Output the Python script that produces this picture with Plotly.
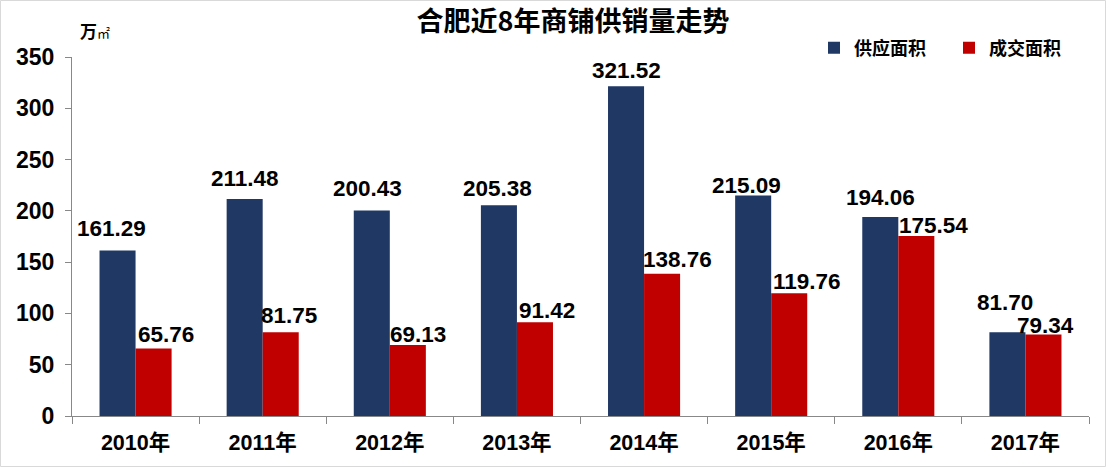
import plotly.graph_objects as go

years = ["2010年", "2011年", "2012年", "2013年", "2014年", "2015年", "2016年", "2017年"]
supply = [161.29, 211.48, 200.43, 205.38, 321.52, 215.09, 194.06, 81.70]
deal = [65.76, 81.75, 69.13, 91.42, 138.76, 119.76, 175.54, 79.34]
series_names = ["供应面积", "成交面积"]
y_ticks = [0, 50, 100, 150, 200, 250, 300, 350]

# label placement tweaks (pixels) to mimic the hand-placed labels of the original
supply_dx = [-6, 0, -4, -1, 0, -7, 0, -2]
supply_dy = [22, 21, 22, 17, 16, 10, 19, 30]
deal_dx = [12, 8, 10, 12, 15, 18, 17, 2]
deal_dy = [14, 17, 11, 12, 14, 12, 10, 9]

BLUE = "#203864"
RED = "#C00000"
FONT = "Liberation Sans, Noto Sans CJK SC, sans-serif"
CJK = "Noto Sans CJK SC, sans-serif"

W, H = 1106, 467
ML, MR, MT, MB = 72, 17, 57, 51
pw = W - ML - MR
ph = H - MT - MB
cat_w = pw / len(years)
bar_frac = 0.2835


def px_x(px):
    return (px - ML) / pw


def px_y(py):
    return (H - MB - py) / ph


fig = go.Figure()
fig.add_trace(go.Bar(x=years, y=supply, name="<b>%s</b>" % series_names[0], marker_color=BLUE,
                     marker_line_width=0))
fig.add_trace(go.Bar(x=years, y=deal, name="<b>%s</b>" % series_names[1], marker_color=RED,
                     marker_line_width=0))

ann = []
for i, y in enumerate(years):
    ann.append(dict(x=y, y=supply[i], xref="x", yref="y", text="<b>%.2f</b>" % supply[i],
                    showarrow=False, xshift=-bar_frac * cat_w / 2 + supply_dx[i],
                    yshift=supply_dy[i], font=dict(family=FONT, size=22.5, color="black")))
    ann.append(dict(x=y, y=deal[i], xref="x", yref="y", text="<b>%.2f</b>" % deal[i],
                    showarrow=False, xshift=bar_frac * cat_w / 2 + deal_dx[i],
                    yshift=deal_dy[i], font=dict(family=FONT, size=22.5, color="black")))

ann.append(dict(x=px_x(78), y=px_y(31), xref="paper", yref="paper",
                text="<b>万</b><span style='font-size:13px'>㎡</span>", showarrow=False,
                xanchor="left", yanchor="middle", font=dict(family=CJK, size=17, color="black")))

shapes = [dict(type="rect", xref="paper", yref="paper",
               x0=px_x(0.5), x1=px_x(W - 0.5),
               y0=px_y(H - 0.5), y1=px_y(0.5),
               line=dict(color="#d9d9d9", width=1), fillcolor="rgba(0,0,0,0)", layer="below")]

fig.update_layout(
    width=W, height=H,
    margin=dict(l=ML, r=MR, t=MT, b=MB, autoexpand=False),
    paper_bgcolor="white", plot_bgcolor="white",
    barmode="group", bargap=0.433, bargroupgap=0,
    title=dict(text="<b>合肥近8年商铺供销量走势</b>", x=573 / W, xanchor="center",
               y=1 - 22 / H, yanchor="middle",
               font=dict(family=CJK, size=27, color="black")),
    legend=dict(orientation="h", xref="container", yref="container",
                x=814 / W, xanchor="left", y=1 - 48 / H, entrywidth=90, entrywidthmode="pixels",
                yanchor="middle", font=dict(family=CJK, size=18, color="black"),
                bgcolor="rgba(0,0,0,0)", itemwidth=30, traceorder="normal"),
    annotations=ann,
    shapes=shapes,
    font=dict(family=FONT, color="black"),
)
fig.update_xaxes(type="category", showline=True, linecolor="#888888", linewidth=1,
                 ticks="outside", tickson="boundaries", ticklen=7, tickcolor="#888888",
                 showgrid=False, tickfont=dict(family=FONT, size=21.5, color="black"),
                 ticktext=["<b>%s</b>" % y for y in years], tickvals=years, automargin=False,
                 ticklabelstandoff=7)
fig.update_yaxes(range=[0, 350], tickvals=y_ticks, ticktext=["<b>%d</b>" % v for v in y_ticks],
                 showline=True, linecolor="#888888", linewidth=1,
                 ticks="outside", ticklen=6, tickcolor="#888888", showgrid=False, zeroline=False,
                 tickfont=dict(family=FONT, size=23, color="black"), automargin=False,
                 ticklabelstandoff=6)

fig.write_html("out.html", config={"displayModeBar": False},
               post_script="document.body.style.margin='0';document.body.style.overflow='hidden';")
